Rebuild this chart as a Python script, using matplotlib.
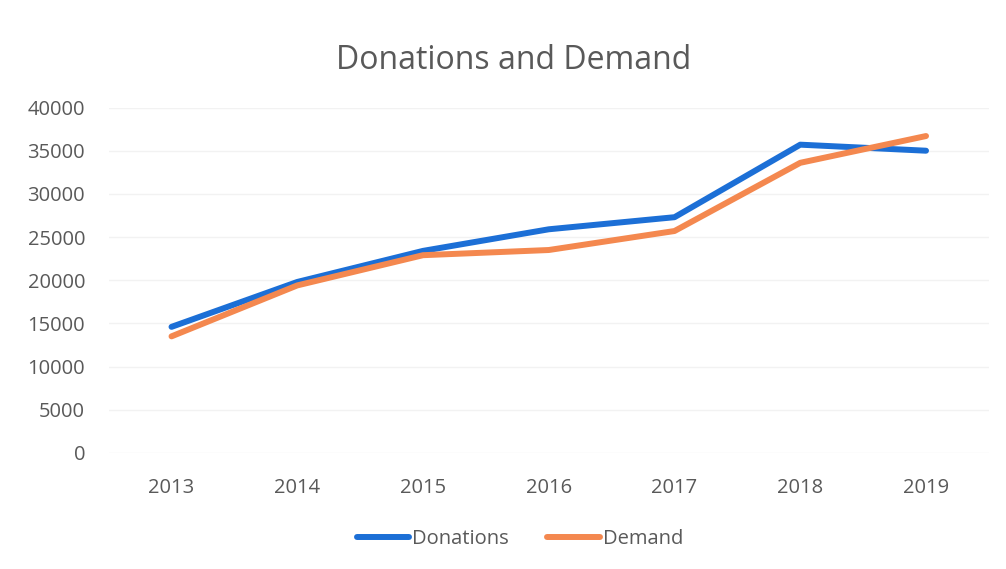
import matplotlib
matplotlib.use('Agg')
import matplotlib.pyplot as plt
import numpy as np

# Datos
years = ['2013', '2014', '2015', '2016', '2017', '2018', '2019']
donations = [14600, 19800, 23400, 25900, 27300, 35700, 35000]
demand = [13500, 19400, 22900, 23500, 25700, 33600, 36700]
y_ticks = [0, 5000, 10000, 15000, 20000, 25000, 30000, 35000, 40000]

plt.rcParams['font.family'] = ['Open Sans', 'DejaVu Sans']
text_color = '#595959'

fig = plt.figure(figsize=(10.06, 5.69), dpi=100)
ax = fig.add_axes([0.108, 0.204, 0.875, 0.607])

x = np.arange(len(years))
ax.plot(x, donations, color='#1c6fd6', linewidth=4.3, solid_capstyle='round',
        solid_joinstyle='round', label='Donations', zorder=3)
ax.plot(x, demand, color='#f4884f', linewidth=4.3, solid_capstyle='round',
        solid_joinstyle='round', label='Demand', zorder=3)

ax.set_xlim(-0.5, len(years) - 0.5)
ax.set_ylim(0, 40000)
ax.set_xticks(x)
ax.set_xticklabels(years)
ax.set_yticks(y_ticks)
ax.set_yticklabels([str(t) for t in y_ticks])
ax.tick_params(axis='both', length=0, labelsize=14.5, labelcolor=text_color)
ax.tick_params(axis='x', pad=18)
ax.tick_params(axis='y', pad=17)
ax.grid(axis='y', color='#f2f2f2', linewidth=1)
ax.set_axisbelow(True)
for s in ax.spines.values():
    s.set_visible(False)

fig.suptitle('Donations and Demand', fontsize=23, color=text_color, x=0.511, y=0.923)

fig.legend(loc='center', bbox_to_anchor=(0.517, 0.053), ncol=2, frameon=False,
           fontsize=14.5, labelcolor=text_color, handlelength=2.6, handletextpad=0.15,
           columnspacing=1.9)

fig.savefig('out.png', dpi=100, facecolor='white')
